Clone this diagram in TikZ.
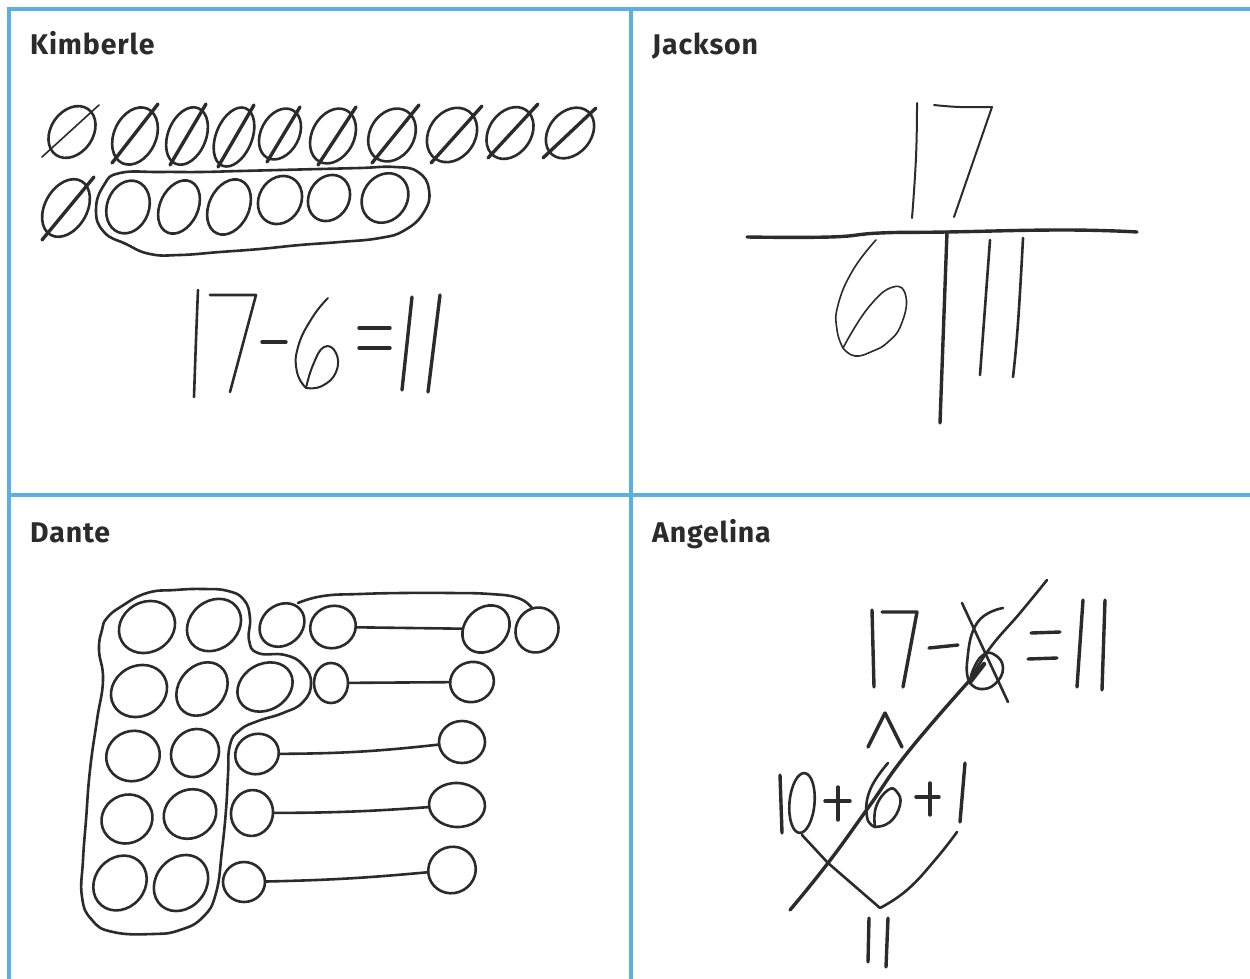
\documentclass[tikz,border=0pt]{standalone}
\usepackage{fontspec}
\setmainfont{Fira Sans}[LetterSpace=3]
\usetikzlibrary{shapes.geometric}
\definecolor{gridblue}{HTML}{5BB0E0}
\definecolor{ink}{HTML}{2B2B2B}
\tikzset{
  x=1pt,y=-1pt,
  gridline/.style={draw=gridblue,line width=3.4pt},
  title/.style={anchor=base west,inner sep=0pt,font=\fontsize{28.5}{30}\selectfont\bfseries,text=ink},
  pen/.style={draw=ink,line width=2.6pt,line cap=round,line join=round},
  thinpen/.style={draw=ink,line width=2pt,line cap=round,line join=round},
  heavypen/.style={draw=ink,line width=3.4pt,line cap=round,line join=round},
  oval/.style={shape=ellipse,pen,inner sep=0pt,outer sep=0pt},
}
% name, x, y, half long axis, half short axis, tilt
\newcommand{\ov}[6]{\node[oval,minimum width=#4*2pt,minimum height=#5*2pt,rotate=#6] (#1) at (#2,#3) {};}
\newcommand{\ink}[2][pen]{\draw[#1] plot[smooth,tension=.8] coordinates {#2};}
\newcommand{\inkc}[2][pen]{\draw[#1] plot[smooth cycle,tension=.8] coordinates {#2};}
\begin{document}
\begin{tikzpicture}
\useasboundingbox (0,0) rectangle (1250,979);
\fill[white] (0,0) rectangle (1250,979);
% grid
\coordinate (gTL) at (9,9); \coordinate (gTR) at (1250,9);
\coordinate (gBL) at (9,979); \coordinate (gTM) at (631,9);
\coordinate (gBM) at (631,979); \coordinate (gML) at (9,495); \coordinate (gMR) at (1250,495);
\draw[gridline] (gTR) -- (gTL) -- (gBL);
\draw[gridline] (gTM) -- (gBM);
\draw[gridline] (gML) -- (gMR);
% titles
\node[title] (tk) at (30,55) {Kimberle};
\node[title] (tj) at (652,55) {Jackson};
\node[title] (td) at (30,542) {Dante};
\node[title] (ta) at (652,542) {Angelina};

% ---------- Kimberle ----------
\ov{k1}{72}{132}{28}{21}{55}
\ov{k2}{135}{136}{30}{21}{65}
\ov{k3}{187}{136}{30}{19}{68}
\ov{k4}{234}{137}{31}{18}{68}
\ov{k5}{280}{134}{27}{19}{62}
\ov{k6}{333}{136}{29}{21}{62}
\ov{k7}{392}{135}{28}{22}{58}
\ov{k8}{452}{135}{29}{23}{55}
\ov{k9}{510}{133}{28}{21}{55}
\ov{k10}{570}{133}{28}{21}{50}
\draw[pen,line width=1.6pt] (42,157) -- (99,105);
\draw[heavypen] (112,163) -- (158,104);
\draw[heavypen] (170,165) -- (206,104);
\draw[heavypen] (218,167) -- (254,105);
\draw[heavypen] (267,162) -- (300,107);
\draw[heavypen] (318,165) -- (356,107);
\draw[heavypen] (372,163) -- (419,105);
\draw[heavypen] (431,163) -- (482,106);
\draw[heavypen] (488,158) -- (538,104);
\draw[heavypen] (543,158) -- (596,108);
\ov{k11}{66}{208}{31}{21}{60}
\draw[heavypen] (42,240) -- (94,177);
\ov{m1}{128}{207}{27}{21}{70}
\ov{m2}{179}{207}{28}{19}{65}
\ov{m3}{229}{207}{29}{20}{65}
\ov{m4}{280}{200}{25}{21}{60}
\ov{m5}{329}{198}{24}{20}{60}
\ov{m6}{385}{198}{26}{22}{55}
\inkc{(120,173)(160,172)(200,172)(240,171)(280,170)(320,169)(360,168)(395,167)(418,172)(429,190)(424,212)(405,230)(380,238)(340,242)(300,245)(260,249)(220,252)(180,255)(150,254)(126,244)(104,232)(96,210)(104,185)}
% 17-6=11
\ink[pen]{(198,290)(196,340)(194,397)}
\draw[pen] (210,295) -- (256,295) -- (230,392);
\draw[heavypen] (262,342) -- (286,342);
\ink[thinpen]{(328,298)(312,318)(298,347)(297,372)(306,388)}
\ink[thinpen]{(306,388)(313,365)(324,347)(336,353)(336,372)(322,386)(306,388)}
\draw[heavypen] (359,328) -- (390,328);
\draw[heavypen] (359,348) -- (390,348);
\draw[heavypen] (412,297) -- (402,390);
\draw[heavypen] (440,295) -- (428,392);

% ---------- Jackson ----------
\ink[thinpen]{(917,103)(916,157)(912,218)}
\ink[thinpen]{(934,105)(960,107)(992,107)}
\draw[thinpen] (992,107) -- (954,217);
\ink[heavypen]{(747,237)(830,237)(880,233)(947,232)(1063,230)(1137,232)}
\draw[heavypen] (947,232) -- (940,423);
\draw[pen] (990,240) -- (980,375);
\ink[pen]{(1023,238)(1018,323)(1013,377)}
\ink[thinpen,line width=1.6pt]{(876,240)(853,270)(838,305)(837,330)(843,348)}
\ink[thinpen,line width=1.6pt]{(843,348)(868,308)(893,287)(906,297)(901,325)(888,342)(873,351)(855,356)(843,348)}

% ---------- Dante ----------
\ov{a1}{147}{627}{29}{25}{30}
\ov{a2}{214}{625}{29}{24}{40}
\ov{a3}{282}{625}{24}{20}{40}
\ov{a4}{333}{627}{23}{21}{20}
\ov{a5}{486}{629}{26}{21}{45}
\ov{a6}{537}{630}{23}{21}{60}
\ov{b1}{139}{691}{29}{25}{30}
\ov{b2}{202}{689}{29}{23}{50}
\ov{b3}{265}{687}{29}{23}{30}
\ov{b4}{331}{683}{20}{17}{90}
\ov{b5}{472}{682}{22}{20}{15}
\ov{c1}{133}{756}{27}{25}{20}
\ov{c2}{195}{753}{25}{23}{45}
\ov{c3}{257}{754}{22}{20}{20}
\ov{c5}{462}{742}{23}{21}{0}
\ov{d1}{127}{819}{26}{24}{30}
\ov{d2}{190}{814}{27}{24}{30}
\ov{d3}{252}{813}{23}{21}{80}
\ov{d5}{457}{805}{28}{22}{-3}
\ov{e1}{120}{883}{29}{25}{50}
\ov{e2}{181}{883}{30}{25}{50}
\ov{e3}{244}{882}{21}{20}{0}
\ov{e5}{452}{870}{24}{23}{30}
\draw[pen] (a4) -- (a5);
\draw[pen] (b4) -- (b5);
\draw[pen] (c3) to[bend right=3] (c5);
\draw[pen] (d3) to[bend right=2] (d5);
\draw[pen] (e3) to[bend right=2] (e5);
\coordinate (arcS) at (298,603); \coordinate (arcE) at (532,608);
\draw[pen] plot[smooth,tension=.8] coordinates {(arcS)(323,596)(360,594)(403,593)(450,593)(490,594)(518,598)(arcE)};
\inkc{(107,618)(122,606)(147,593)(175,590)(203,589)(228,591)(244,600)(250,618)(249,640)(258,653)(285,655)(303,665)(311,683)(303,702)(283,713)(258,721)(240,730)(230,745)(228,775)(226,810)(222,850)(216,893)(203,917)(180,930)(153,934)(113,932)(92,920)(82,897)(83,860)(86,820)(90,770)(97,720)(103,680)(99,650)(102,630)}

% ---------- Angelina ----------
\draw[heavypen] (872,610) -- (874,687);
\draw[heavypen] (882,612) -- (917,612) -- (903,687);
\draw[heavypen] (929,648) -- (958,645);
\ink[pen]{(1003,608)(977,623)(967,663)(970,683)}
\ink[pen]{(970,683)(980,689)(995,684)(1003,668)(995,655)(983,655)(973,670)(970,683)}
\draw[pen] (962,603) -- (1008,702);
\ink[heavypen]{(790,910)(828,863)(868,808)(908,752)(970,680)}
\draw[heavypen,line width=4.5pt] (970,682) -- (984,664);
\ink[pen]{(970,680)(990,648)(1020,613)(1047,580)}
\draw[heavypen] (1031,633) -- (1060,632);
\draw[heavypen] (1028,659) -- (1057,658);
\draw[heavypen] (1083,600) -- (1077,687);
\draw[heavypen] (1105,600) -- (1102,690);
\draw[heavypen] (868,747) -- (885,713) -- (902,747);
\draw[heavypen] (780,775) -- (782,833);
\ov{z}{802}{803}{30}{12.5}{85}
\draw[heavypen] (825,801) -- (850,801);
\draw[heavypen] (838,787) -- (838,820);
\ink[pen]{(888,763)(870,790)(867,817)(875,827)}
\ink[pen]{(875,827)(890,822)(900,805)(897,792)(888,790)(876,807)(875,827)}
\draw[heavypen] (916,797) -- (939,797);
\draw[heavypen] (930,783) -- (930,815);
\draw[heavypen] (965,763) -- (960,822);
\draw[pen] (802,835) -- (828,863) -- (880,908);
\ink[pen]{(880,908)(907,890)(935,860)(957,832)}
\draw[heavypen] (869,918) -- (868,962);
\draw[heavypen] (888,918) -- (886,967);
\end{tikzpicture}
\end{document}
